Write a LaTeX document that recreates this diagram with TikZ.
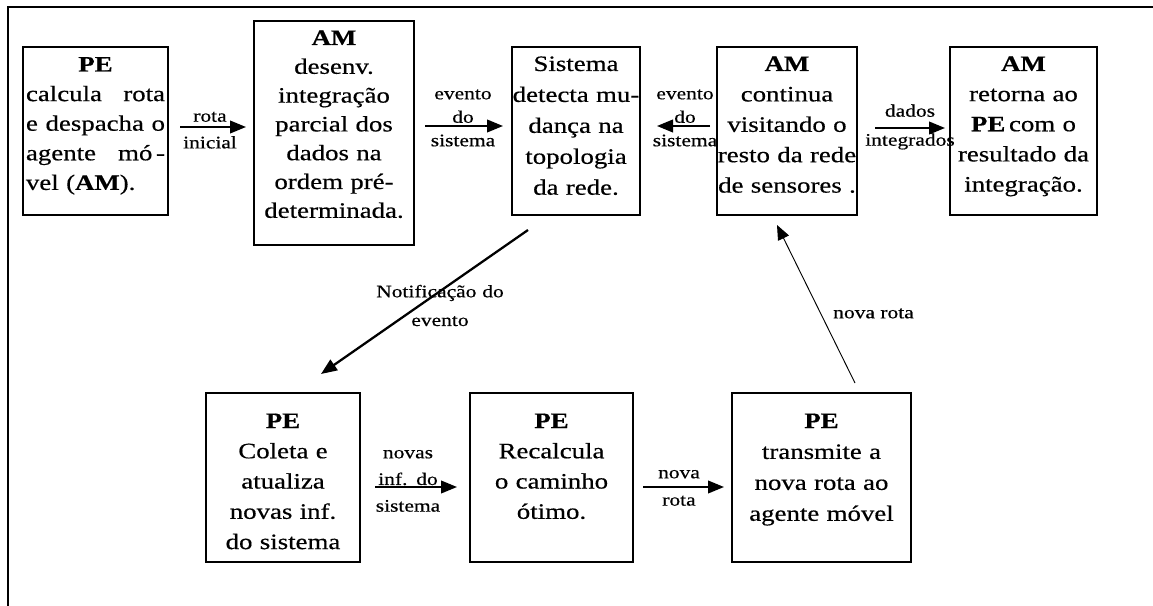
\documentclass[tikz,border=0pt]{standalone}
\usepackage{fontspec}
\setmainfont{Liberation Serif}[FakeStretch=1.22, FakeBold=0.5]
\usetikzlibrary{arrows.meta}
\tikzset{
  bx/.style n args={2}{draw, line width=1.1pt, inner sep=0pt, outer sep=0pt,
    minimum width={#1*0.75pt}, minimum height={#2*0.75pt}},
  boxtext/.style n args={2}{inner sep=0pt, anchor=base, align=center,
    text width={#1*0.75pt}, font=\fontsize{16.5}{#2}\selectfont},
  lbl/.style={inner sep=0pt, anchor=base, align=center, text width={170*0.75pt},
    font=\fontsize{13.2}{#1}\selectfont},
  arr/.style={line width=1.4pt, -{Triangle[length=12pt,width=9.5pt]}},
}
\begin{document}
\begin{tikzpicture}[x=0.75pt,y=-0.75pt]
\useasboundingbox (0,0) rectangle (1153,606);
% frame
\draw[line width=1.3pt] (1153,7) -- (8,7) -- (8,606);

% boxes
\node[bx={145}{168}] (b1) at (95.5,131) {};
\node[bx={160}{224}] (b2) at (334,133) {};
\node[bx={128}{168}] (b3) at (576,131) {};
\node[bx={140}{168}] (b4) at (787,131) {};
\node[bx={147}{168}] (b5) at (1023.5,131) {};
\node[bx={154}{169}] (b6) at (283,477.5) {};
\node[bx={163}{169}] (b7) at (551.5,477.5) {};
\node[bx={179}{169}] (b8) at (821.5,477.5) {};

% box texts
\node[boxtext={139}{22.2pt}, align=left] (t1) at (95.5,71.5)
  {\makebox[\linewidth]{\textbf{PE}}\\
   \makebox[\linewidth]{calcula\hfill rota}\\
   \makebox[\linewidth]{e\hfill despacha\hfill o}\\
   \makebox[\linewidth]{agente\hfill mó\,-}\\
   vel (\textbf{AM}).};
\node[boxtext={158}{21.6pt}] (t2) at (334,45)
  {\textbf{AM}\\ desenv.\\ integração\\ parcial dos\\ dados na\\ ordem pré-\\ determinada.};
\node[boxtext={128}{23.2pt}] (t3) at (576,71)
  {Sistema\\ detecta mu-\\ dança na\\ topologia\\ da rede.};
\node[boxtext={140}{22.8pt}] (t4) at (787,71)
  {\textbf{AM}\\ continua\\ visitando o\\ resto da rede\\ de sensores .};
\node[boxtext={147}{22.6pt}] (t5) at (1023.5,71)
  {\textbf{AM}\\ retorna ao\\ \textbf{PE}\,com o\\ resultado da\\ integração.};
\node[boxtext={154}{22.7pt}] (t6) at (283,428)
  {\textbf{PE}\\ Coleta e\\ atualiza\\ novas inf.\\ do sistema};
\node[boxtext={163}{22.7pt}] (t7) at (551.5,428)
  {\textbf{PE}\\ Recalcula\\ o caminho\\ ótimo.};
\node[boxtext={179}{23.2pt}] (t8) at (821.5,428)
  {\textbf{PE}\\ transmite a\\ nova rota ao\\ agente móvel};

% arrows
\draw[arr] ([shift={(12,-4)}]b1.east) -- ([shift={(-8,-6)}]b2.west);
\draw[arr] ([shift={(11,-7)}]b2.east) -- ([shift={(-9,-5)}]b3.west);
\draw[arr] ([shift={(-7,-5)}]b4.west) -- ([shift={(17,-5)}]b3.east);
\draw[arr] ([shift={(18,-3)}]b4.east) -- ([shift={(-5,-3)}]b5.west);
\draw[arr, line width=1.7pt] ([shift={(-48,15)}]b3.south) -- ([shift={(38,-19)}]b6.north);
\draw[arr] ([shift={(15,9.5)}]b6.east) -- ([shift={(-13,9.5)}]b7.west);
\draw[arr] ([shift={(10,9.5)}]b7.east) -- ([shift={(-8,9.5)}]b8.west);
\draw[line width=0.7pt, -{Triangle[length=11pt,width=9pt]}] ([shift={(33.5,-10)}]b8.north) -- ([shift={(-10,10)}]b4.south);

% labels
\node[lbl=20pt] (l1) at (210,121.7) {rota\\ inicial};
\node[lbl=17.6pt] (l2) at (463,99.3) {evento\\ do\\ sistema};
\node[lbl=17.6pt] (l3) at (685,99.3) {evento\\ do\\ sistema};
\node[lbl=21.75pt] (l4) at (910,116.7) {dados\\ integrados};
\node[lbl=21.5pt] (l5) at (440,297.3) {Notificação do\\ evento};
\node[lbl=20pt] (l6) at (408,458.3) {novas\\ inf. do\\ sistema};
\node[lbl=20.5pt] (l7) at (679,478.3) {nova\\ rota};
\node[inner sep=0pt, anchor=base west, font=\fontsize{13.2}{16}\selectfont] (l8) at (833,318.3) {nova rota};
\end{tikzpicture}
\end{document}
